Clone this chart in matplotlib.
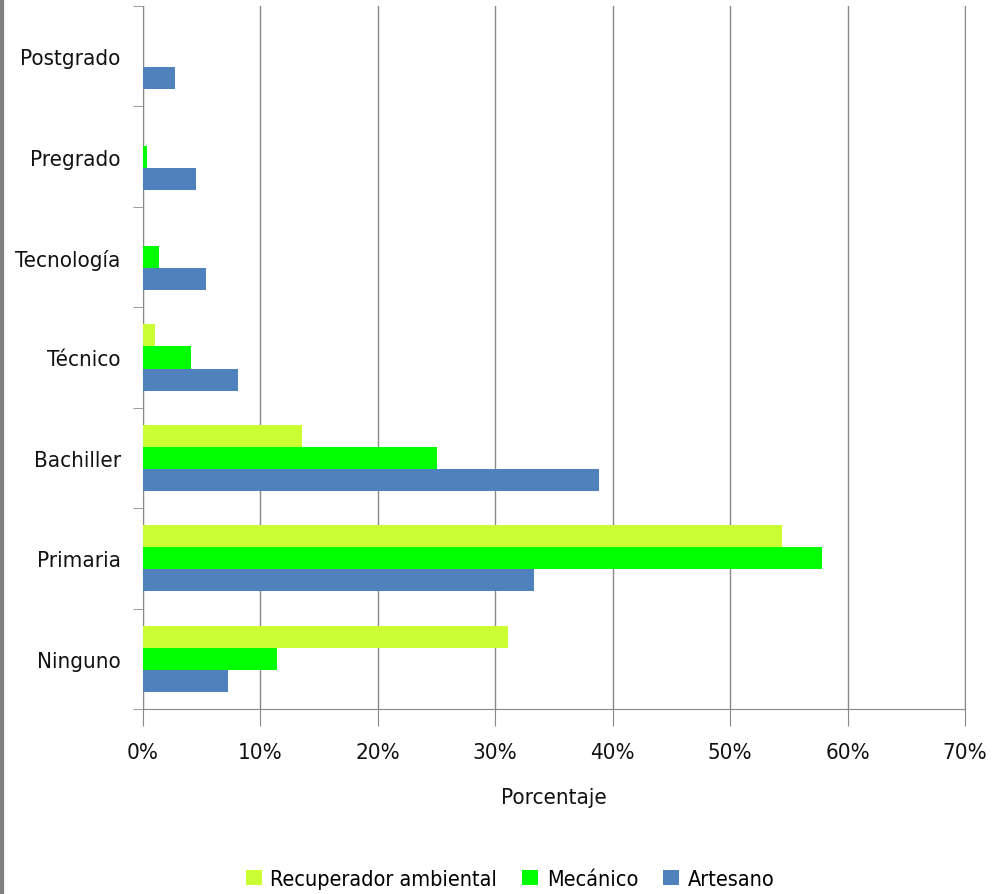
import numpy as np
from matplotlib import pyplot as plt
from matplotlib.lines import Line2D
from matplotlib.ticker import PercentFormatter

plt.rcParams['font.family'] = ['DejaVu Sans']
plt.rcParams['font.stretch'] = 'condensed'

# Datos (porcentaje)
categorias = ["Ninguno", "Primaria", "Bachiller", "Técnico", "Tecnología", "Pregrado", "Postgrado"]
recuperador = [31.1, 54.4, 13.5, 1.0, 0.0, 0.0, 0.0]
mecanico = [11.4, 57.8, 25.0, 4.1, 1.4, 0.3, 0.0]
artesano = [7.2, 33.3, 38.8, 8.1, 5.4, 4.5, 2.7]

fig = plt.figure(figsize=(9.95, 8.95), dpi=100)
ax = fig.add_axes([143 / 995, 1 - 710 / 895, (965 - 143) / 995, (710 - 7) / 895])

y = np.arange(len(categorias))
h = 0.22
ax.barh(y - h, artesano, h, color="#4F81BD", label="Artesano", zorder=3)
ax.barh(y, mecanico, h, color="#00FF00", label="Mecánico", zorder=3)
ax.barh(y + h, recuperador, h, color="#CCFF33", label="Recuperador ambiental", zorder=3)

ax.set_xlim(0, 70)
ax.set_ylim(-0.5, len(categorias) - 0.5)
ax.set_xticks(np.arange(0, 71, 10))
ax.xaxis.set_major_formatter(PercentFormatter(decimals=0))
ax.set_yticks(y)
ax.set_yticklabels(categorias)
ax.set_yticks(np.arange(-0.5, len(categorias), 1), minor=True)
ax.tick_params(axis="y", which="major", length=0, pad=16, labelsize=16, labelcolor="#111111")
ax.tick_params(axis="y", which="minor", length=7, color="#888888")
ax.tick_params(axis="x", length=12, color="#888888", pad=12, labelsize=16, labelcolor="#111111")
ax.grid(axis="x", color="#888888", linewidth=1, zorder=0)

ax.spines["top"].set_visible(False)
for lado in ["left", "bottom", "right"]:
    ax.spines[lado].set_color("#888888")

ax.set_xlabel("Porcentaje", fontsize=16, color="#111111", labelpad=18)

handles, labels = ax.get_legend_handles_labels()
fig.legend(handles[::-1], labels[::-1], loc="center", bbox_to_anchor=(510 / 995, 1 - 880 / 895),
           ncol=3, frameon=False, fontsize=15.5, handlelength=0.75, handleheight=0.75,
           handletextpad=0.4, columnspacing=1.15)

# Borde gris a la izquierda
fig.add_artist(Line2D([0.002, 0.002], [0, 1], color="#808080", linewidth=3, transform=fig.transFigure))

plt.savefig("out.png", dpi=100)
